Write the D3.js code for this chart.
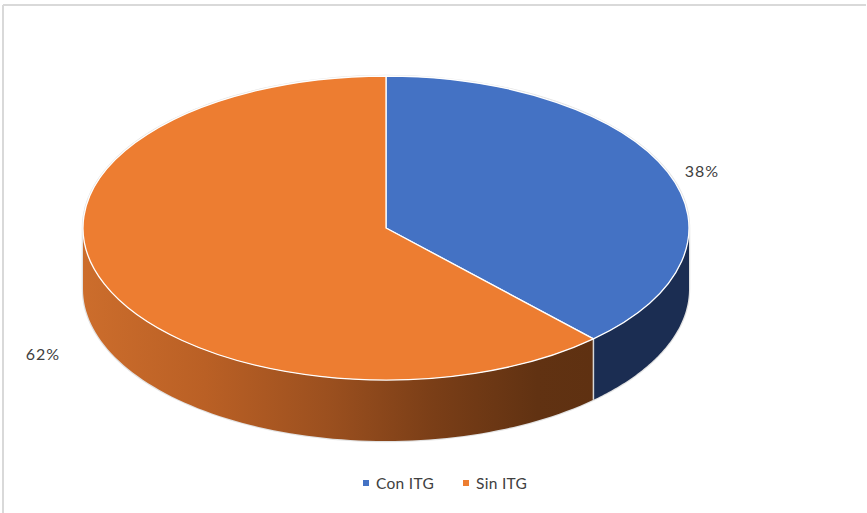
<!DOCTYPE html>
<html><head><meta charset="utf-8">
<script src="https://cdn.jsdelivr.net/npm/d3@7"></script>
<style>html,body{margin:0;padding:0;background:#fff;}svg{display:block;}</style>
</head><body>
<svg id="c" width="867" height="513"></svg>
<script>
const categories = ["Con ITG", "Sin ITG"];
const values = [38, 62];
const labels = ["38%", "62%"];
const topColors = ["#4472c4", "#ed7d31"];

const svg = d3.select("#c");
const W = 867, H = 513;
const cx = 386, cy = 228, rx = 303, ry = 152, depth = 61;
const font = "Lato, 'Open Sans', sans-serif";

// border
svg.append("line").attr("x1", 3).attr("x2", 866).attr("y1", 5).attr("y2", 5).attr("stroke", "#d9d9d9").attr("stroke-width", 2);
svg.append("line").attr("x1", 3).attr("x2", 3).attr("y1", 5).attr("y2", 513).attr("stroke", "#d9d9d9").attr("stroke-width", 2);

const defs = svg.append("defs");
const g1 = defs.append("linearGradient").attr("id", "sideOr").attr("gradientUnits", "userSpaceOnUse")
  .attr("x1", cx - rx).attr("x2", cx + rx).attr("y1", 0).attr("y2", 0);
[[0, "#cc6d2c"], [0.2, "#ba6025"], [0.4, "#9c501f"], [0.58, "#7a3e17"], [0.75, "#613212"], [1, "#5b2f10"]]
  .forEach(([o, c]) => g1.append("stop").attr("offset", o).attr("stop-color", c));

const pie = d3.pie().sort(null).startAngle(0).endAngle(2 * Math.PI);
const arcs = pie(values);

const px = a => cx + rx * Math.sin(a);
const py = (a, dy = 0) => cy - ry * Math.cos(a) + dy;

function sidePath(a0, a1) {
  const s = Math.max(a0, Math.PI / 2), e = Math.min(a1, 3 * Math.PI / 2);
  if (e <= s) return null;
  const n = 80, pts = [];
  for (let i = 0; i <= n; i++) { const a = s + (e - s) * i / n; pts.push([px(a), py(a)]); }
  for (let i = n; i >= 0; i--) { const a = s + (e - s) * i / n; pts.push([px(a), py(a, depth)]); }
  return d3.line()(pts) + "Z";
}
function topPath(a0, a1) {
  const large = (a1 - a0) > Math.PI ? 1 : 0;
  return `M${cx},${cy}L${px(a0)},${py(a0)}A${rx},${ry} 0 ${large} 1 ${px(a1)},${py(a1)}Z`;
}
const sideFill = ["#1b2d52", "url(#sideOr)"];

// soft outline shadow
svg.append("path")
  .attr("d", `M${cx - rx},${cy}A${rx},${ry} 0 0 1 ${cx + rx},${cy}L${cx + rx},${cy + depth}A${rx},${ry} 0 0 1 ${cx - rx},${cy + depth}Z`)
  .attr("fill", "none").attr("stroke", "#cfcfcf").attr("stroke-width", 2.5).attr("opacity", 0.6);

// sides
arcs.forEach((d, i) => {
  const p = sidePath(d.startAngle, d.endAngle);
  if (p) svg.append("path").attr("d", p).attr("fill", sideFill[i]);
});
// vertical edges on side at slice boundaries
arcs.forEach(d => {
  const a = d.startAngle;
  if (a > Math.PI / 2 && a < 3 * Math.PI / 2) {
    svg.append("line").attr("x1", px(a)).attr("x2", px(a)).attr("y1", py(a)).attr("y2", py(a, depth))
      .attr("stroke", "#d8d8d8").attr("stroke-width", 1.5);
  }
});
// tops
arcs.forEach((d, i) => {
  svg.append("path").attr("d", topPath(d.startAngle, d.endAngle))
    .attr("fill", topColors[i]).attr("stroke", "#fff").attr("stroke-width", 1.3).attr("stroke-linejoin", "round");
});

// data labels
const labelPos = [[702, 177], [43, 360]];
arcs.forEach((d, i) => {
  svg.append("text").attr("x", labelPos[i][0]).attr("y", labelPos[i][1]).attr("text-anchor", "middle")
    .attr("font-family", font).attr("font-size", 16).attr("letter-spacing", 1).attr("fill", "#404040").text(labels[i]);
});

// legend
const legX = [363, 463];
categories.forEach((c, i) => {
  svg.append("rect").attr("x", legX[i]).attr("y", 480).attr("width", 6).attr("height", 6).attr("fill", topColors[i]);
  svg.append("text").attr("x", legX[i] + 13).attr("y", 489).attr("font-family", font).attr("font-size", 15.5)
    .attr("letter-spacing", 0.3).attr("fill", "#404040").text(c);
});
</script>
</body></html>
